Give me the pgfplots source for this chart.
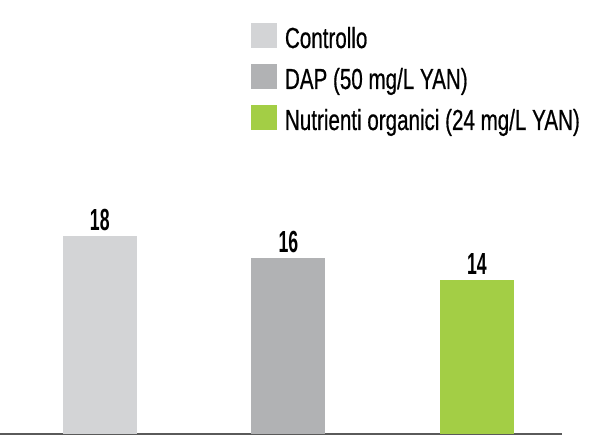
\documentclass[border=0pt]{standalone}
\usepackage{fontspec}
\setmainfont[FakeStretch=0.71, FakeBold=0.6]{Liberation Sans}
\newfontfamily\numfont[FakeStretch=0.58]{Liberation Sans}
\usepackage{pgfplots}
\pgfplotsset{compat=1.18}
\definecolor{ctrl}{RGB}{211,212,214}
\definecolor{dap}{RGB}{177,178,180}
\definecolor{nutr}{RGB}{163,206,69}
\definecolor{base}{RGB}{90,90,90}
\begin{document}
\begin{tikzpicture}
\useasboundingbox (0,0) rectangle (601bp,448bp);
\begin{axis}[
    at={(0bp,14bp)}, anchor=south west,
    scale only axis,
    width=562bp, height=434bp,
    xmin=-0.529, xmax=2.451,
    ymin=0, ymax=39.45,
    clip=false,
    axis x line=bottom,
    hide y axis,
    xtick=\empty,
    x axis line style={-, draw=base, line width=1.5bp},
    ybar, bar width=74bp, bar shift=0pt,
    nodes near coords={\numfont\bfseries\pgfmathprintnumber[assume math mode=true]{\pgfplotspointmeta}},
    every node near coord/.append style={anchor=south, inner sep=0pt, yshift=5bp, font=\fontsize{30.5bp}{30.5bp}\selectfont},
    legend image code/.code={\fill[#1, draw=none] (0bp,0bp) rectangle (26bp,25bp);},
    legend style={at={(0.4466,0.947)}, anchor=north west, draw=none, fill=none,
        inner sep=0pt, outer sep=0pt, row sep=16bp, column sep=8bp,
        font=\fontsize{29bp}{29bp}\selectfont,
        nodes={inner sep=0pt, text height=25bp, text depth=0pt},
        cells={anchor=base west}},
]
\addplot[fill=ctrl, draw=none] coordinates {(0,18)};
\addlegendentry{Controllo}
\addplot[fill=dap, draw=none] coordinates {(1,16)};
\addlegendentry{DAP (50 mg/L YAN)}
\addplot[fill=nutr, draw=none] coordinates {(2,14)};
\addlegendentry{Nutrienti organici (24 mg/L YAN)}
\end{axis}
\end{tikzpicture}
\end{document}
